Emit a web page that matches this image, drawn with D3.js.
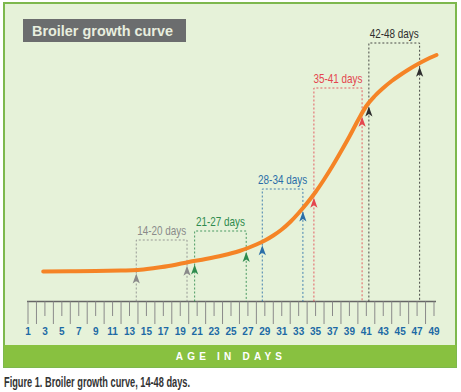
<!DOCTYPE html>
<html><head><meta charset="utf-8">
<script src="https://cdn.jsdelivr.net/npm/d3@7"></script>
<style>
html,body{margin:0;padding:0;background:#fff;}
svg{display:block;}
</style></head>
<body>
<script>
// ---- data ----
const chartTitle = "Broiler growth curve";
const axisTitle = "AGE IN DAYS";
const caption = "Figure 1. Broiler growth curve, 14-48 days.";
const tickLabels = [1,3,5,7,9,11,13,15,17,19,21,23,25,27,29,31,33,35,37,39,41,43,45,47,49];
const tickDays = d3.range(1, 50);
// growth curve (relative weight index)
const curveDays = [2.8,6,9,12,14,16,18,20,22,24,26,27,28,29,30,31,32,33,34,35,36,37,38,39,40,41,42,43,44,45,46,47,48,49.3];
const curveValues = [28.5,28.8,29,29.5,30,32,34.5,38,41,44.5,49,52,55.5,59.5,64.5,70.5,78,87,97,108,120.5,134,148.5,163.5,179.5,194,204,212,219,225,230.5,235.5,240,245];
const periodLabels = ["14-20 days","21-27 days","28-34 days","35-41 days","42-48 days"];
const periodStart = [13.8, 20.7, 28.7, 34.8, 41.3];
const periodEnd = [19.8, 26.8, 33.5, 40.5, 47.3];
const periodTop = [60, 69, 111, 212, 257];
const periodColors = ["#8a8a8a", "#2e8b4e", "#2a6ea8", "#e4464e", "#2e2e2e"];

const W = 461, H = 392;
const svg = d3.select("body").append("svg").attr("width", W).attr("height", H);
const narrow = "Liberation Sans Narrow, Arial Narrow, Liberation Sans, Arial, sans-serif";

// panel
svg.append("rect").attr("x", 4).attr("y", 3).attr("width", 452).attr("height", 364)
  .attr("fill", "#e6f2d9").attr("stroke", "#7db84d").attr("stroke-width", 2);
svg.append("rect").attr("x", 4).attr("y", 345).attr("width", 452).attr("height", 22)
  .attr("fill", "#88c140");
svg.append("text").attr("x", 231).attr("y", 359.5).attr("text-anchor", "middle")
  .attr("fill", "#ffffff").attr("font-family", "Liberation Sans, Arial, sans-serif")
  .attr("font-weight", "bold").attr("font-size", 10).attr("letter-spacing", 4.2)
  .text(axisTitle);

// title box
svg.append("rect").attr("x", 23).attr("y", 19).attr("width", 163).attr("height", 23).attr("fill", "#6b6d6e");
svg.append("text").attr("x", 32).attr("y", 36).attr("fill", "#e8eedf")
  .attr("font-family", "Liberation Sans, Arial, sans-serif").attr("font-weight", "bold").attr("font-size", 14.5)
  .attr("textLength", 141).attr("lengthAdjust", "spacingAndGlyphs")
  .text(chartTitle);

// caption
svg.append("text").attr("x", 4).attr("y", 387).attr("fill", "#333")
  .attr("font-family", narrow)
  .attr("font-weight", "bold").attr("font-size", 14)
  .attr("textLength", 186).attr("lengthAdjust", "spacingAndGlyphs")
  .text(caption);

// scales
const x = d3.scaleLinear().domain([1, 49]).range([28, 434]);
const y = d3.scaleLinear().domain([0, 250]).range([300, 50]);
const axisY = 301.5;

// axis
const axisG = svg.append("g");
axisG.append("line").attr("x1", 27).attr("x2", 436).attr("y1", axisY).attr("y2", axisY)
  .attr("stroke", "#666").attr("stroke-width", 1.5);
axisG.selectAll("line.tick").data(tickDays).join("line").attr("class", "tick")
  .attr("x1", d => x(d)).attr("x2", d => x(d))
  .attr("y1", axisY).attr("y2", d => (d % 2 === 0 || d === 1) ? 324 : 316)
  .attr("stroke", "#8a8a8a").attr("stroke-width", 1);
axisG.selectAll("text.lab").data(tickLabels).join("text").attr("class", "lab")
  .attr("x", d => x(d)).attr("y", 335).attr("text-anchor", "middle")
  .attr("fill", "#1d6aa5").attr("font-family", "Liberation Sans, Arial, sans-serif")
  .attr("font-weight", "bold").attr("font-size", 10)
  .text(d => d);

// interpolate curve value
function curveAt(d) {
  const i = d3.bisectRight(curveDays, d);
  const i0 = Math.max(0, Math.min(curveDays.length - 2, i - 1));
  const t = (d - curveDays[i0]) / (curveDays[i0 + 1] - curveDays[i0]);
  return curveValues[i0] + t * (curveValues[i0 + 1] - curveValues[i0]);
}

// period boxes
const boxes = svg.append("g");
periodLabels.forEach((lab, i) => {
  const c = periodColors[i];
  const x0 = x(periodStart[i]), x1 = x(periodEnd[i]), yt = y(periodTop[i]);
  boxes.append("path")
    .attr("d", `M${x0},${axisY} L${x0},${yt} L${x1},${yt} L${x1},${axisY}`)
    .attr("fill", "none").attr("stroke", c).attr("stroke-width", 1)
    .attr("stroke-dasharray", "2,2").attr("opacity", 0.85);
  boxes.append("text").attr("x", (x0 + x1) / 2).attr("y", yt - 5).attr("text-anchor", "middle")
    .attr("fill", c).attr("font-family", narrow)
    .attr("font-size", 13).attr("textLength", 49).attr("lengthAdjust", "spacingAndGlyphs")
    .text(lab);
});

// curve
const line = d3.line().x((d, i) => x(curveDays[i])).y(d => y(d)).curve(d3.curveMonotoneX);
svg.append("path").attr("d", line(curveValues)).attr("fill", "none")
  .attr("stroke", "#f58426").attr("stroke-width", 4).attr("stroke-linecap", "round");

// arrowheads
const arrows = svg.append("g");
periodLabels.forEach((lab, i) => {
  [periodStart[i], periodEnd[i]].forEach(d => {
    const px = x(d), py = y(curveAt(d)) + 3.5;
    arrows.append("path")
      .attr("d", `M${px},${py} L${px + 3.6},${py + 10} L${px},${py + 7.5} L${px - 3.6},${py + 10} Z`)
      .attr("fill", periodColors[i]);
  });
});
</script>
</body></html>
